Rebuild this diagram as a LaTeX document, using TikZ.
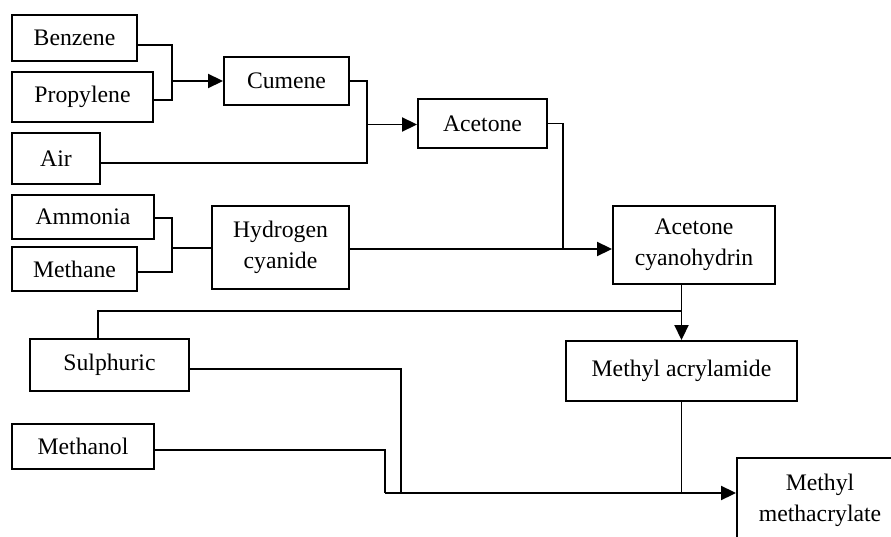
\documentclass[tikz,border=0pt]{standalone}
\usepackage{fontspec}
\setmainfont{Liberation Serif}
\usepackage{tikz}
\usetikzlibrary{
	arrows.meta,   %提供各种箭头
	calc,          %计算
	positioning    %定位
}
\tikzstyle{chem}=[rectangle,
draw,
inner sep=0pt,
align=center,
font=\fontsize{23.7}{31}\selectfont]
\tikzset{
	every picture/.style={
		>={Triangle[length=15pt,width=14pt]},
		line width=1.9pt,
		x=1pt, y=-1pt
}}

\begin{document}
\begin{tikzpicture}
	\useasboundingbox (0,0) rectangle (891,537);
	\clip (0,0) rectangle (891,537);
	% 原料
	\node (benzene) at (74.5,38) [chem, minimum width=125pt, minimum height=46pt] {Benzene};
	\node (propylene) at (82.5,97) [chem, minimum width=141pt, minimum height=50pt] {Propylene};
	\node (air) at (56,158.5) [chem, minimum width=88pt, minimum height=51pt] {Air};
	\node (ammonia) at (83,217) [chem, minimum width=142pt, minimum height=44pt] {Ammonia};
	\node (methane) at (74.5,269) [chem, minimum width=125pt, minimum height=44pt] {Methane};
	\node (sulph) at (109.5,365) [chem, minimum width=159pt, minimum height=52pt] {Sulphuric};
	\node (methanol) at (83,446.5) [chem, minimum width=142pt, minimum height=45pt] {Methanol};
	% 中间产物
	\node (cumene) at (286.5,81) [chem, minimum width=125pt, minimum height=48pt] {Cumene};
	\node (acetone) at (482.5,123.5) [chem, minimum width=129pt, minimum height=49pt] {Acetone};
	\node (hcn) at (280.5,247.5) [chem, minimum width=137pt, minimum height=83pt] {Hydrogen\\cyanide};
	\node (acn) at (694,245) [chem, minimum width=162pt, minimum height=78pt] {Acetone\\cyanohydrin};
	\node (mam) at (681.5,371) [chem, minimum width=231pt, minimum height=60pt] {Methyl acrylamide};
	\node (mma) at (820,500) [chem, minimum width=166pt, minimum height=84pt] {Methyl\\methacrylate};
	% 连线
	\coordinate (j1) at (172,81);
	\draw ([yshift=-7pt]benzene.east) -| (j1) |- ([yshift=-3pt]propylene.east);
	\draw[->] (j1) -- (cumene.west);
	\coordinate (j2) at (367,124.5);
	\draw (cumene.east) -| (j2) |- ([yshift=-4.5pt]air.east);
	\draw[->] (j2) -- (j2 -| acetone.west);
	\coordinate (j3) at (563,249);
	\draw (acetone.east) -| (j3);
	\draw[->] (hcn.east |- j3) -- (acn.west |- j3);
	\coordinate (j4) at (172,248);
	\draw ([yshift=-1pt]ammonia.east) -| (j4) |- ([yshift=-3pt]methane.east);
	\draw (j4) -- (hcn.west |- j4);
	\coordinate (j5) at (681.5,311);
	\draw (acn.south -| mam.north) -- (j5);
	\draw[->] (j5) -- (mam.north);
	\draw ([xshift=-11.5pt]sulph.north) |- (j5);
	\coordinate (j6) at (401,493);
	\coordinate (j7) at (385,493);
	\draw ([yshift=-4pt]sulph.east) -| (j6);
	\draw ([yshift=-3.5pt]methanol.east) -| (j7);
	\draw[->] (j7) -- (j7 -| mma.west);
	\draw (mam.south) -- (mam.south |- j7);
\end{tikzpicture}
\end{document}
